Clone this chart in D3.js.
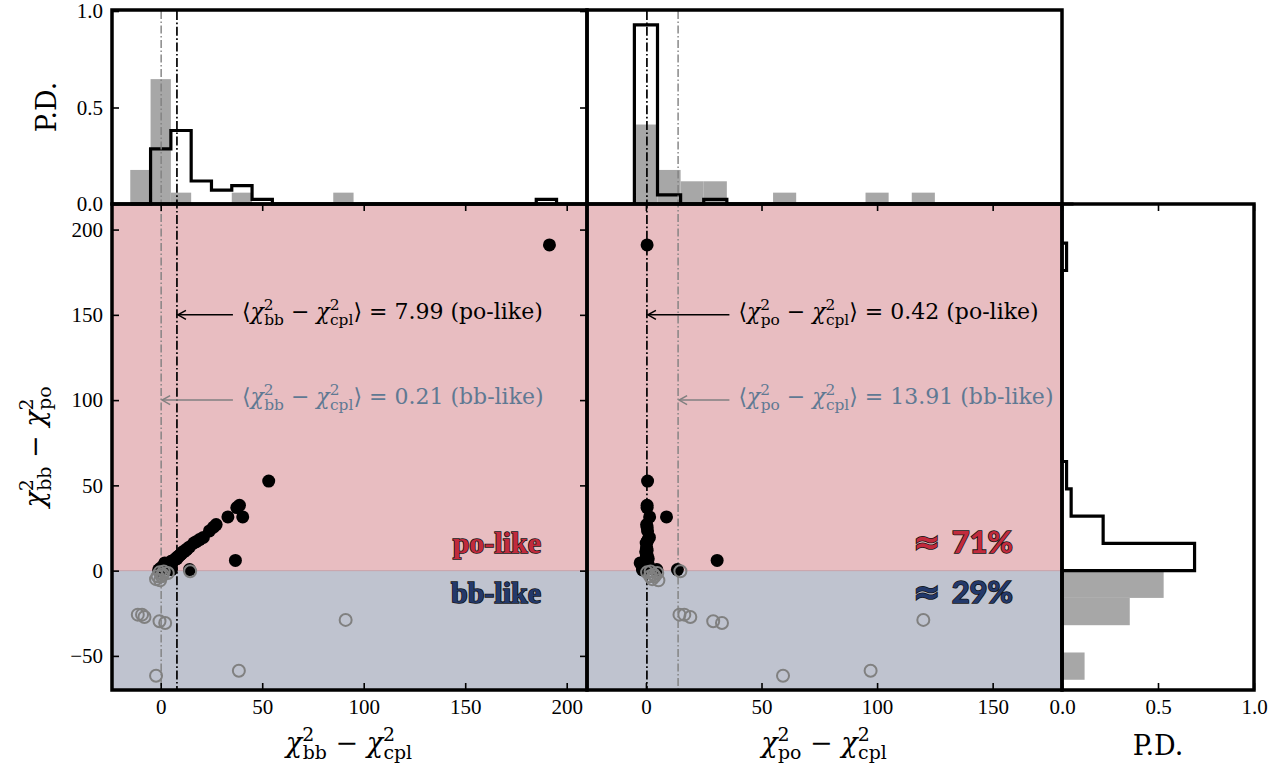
<!DOCTYPE html>
<html>
<head>
<meta charset="utf-8">
<script src="https://cdn.jsdelivr.net/npm/d3@7"></script>
<style>
  body { margin: 0; background: #fff; }
  svg { display: block; }
  .tick text { font-family: "Liberation Serif", serif; font-size: 21px; fill: #000; }
</style>
</head>
<body>
<div class="canvas"></div>
<script>
// po-like sample (filled black): chi2_bb - chi2_cpl, chi2_bb - chi2_po, chi2_po - chi2_cpl
const poLikeBB = [0.5, 1.0, 1.5, 2.0, 2.7, 3.0, 4.0, -1.0, 0.0, -0.5, 2.5, 4.5,
  5.1, 5.3, 6.0, 7.0, 7.5, 8.0, 8.4, 9.0, 9.5, 10.2, 10.9, 11.5, 12.5, 13.0, 14.2, 14.2,
  16.3, 17.5, 19.1, 21.0, 24.0, 26.0, 27.3, 33.1, 36.8, 37.5, 38.8, 40.4, 53.2, 191.5];
const poLikeDY = [0.8, 2.5, 1.0, 4.5, 3.0, 1.5, 4.2, 0.5, 1.5, 0.3, 2.0, 3.5,
  5.5, 0.6, 5.8, 6.5, 7.2, 7.0, 8.2, 8.5, 9.2, 9.8, 11.0, 11.2, 12.0, 12.8, 13.9, 0.6,
  16.2, 17.0, 18.2, 19.5, 23.3, 25.5, 27.0, 31.5, 6.0, 37.0, 38.3, 31.5, 52.5, 191.0];
const poLikePO = [-0.3, -1.5, 0.5, -2.5, -0.3, 1.5, -0.2, -1.5, -1.5, -0.8, 0.5, 1.0,
  -0.4, 4.7, 0.2, 0.5, 0.3, 1.0, 0.2, 0.5, 0.3, 0.4, -0.1, 0.3, 0.5, 0.2, 0.3, 13.6,
  0.1, 0.5, 0.9, 1.5, 0.7, 0.5, 0.3, 1.6, 30.8, 0.5, 0.5, 8.9, 0.7, 0.5];

// bb-like sample (open grey)
const bbLikeBB = [-11.3, -9.2, -8.0, -2.3, 38.5, 91.1, -0.6, 2.2, 14.5,
  -0.3, -2.3, 1.0, 3.5, -0.5, 0.5, -1.5, 1.5];
const bbLikeDY = [-25.8, -25.8, -27.2, -61.6, -58.7, -28.9, -29.7, -30.7, -0.4,
  -5.7, -5.0, -2.3, -1.4, -1.0, -3.3, -3.3, -0.5];
const bbLikePO = [14.5, 16.6, 19.2, 59.3, 97.2, 120.0, 29.1, 32.9, 14.9,
  5.4, 2.7, 3.3, 4.9, 0.5, 3.8, 1.8, 2.0];

// histogram bin edges
const bbEdges = d3.range(-15, 205, 10);
const poEdges = d3.range(-5, 195, 10);
const dyEdges = d3.range(-64, 208, 16);

// reference values (medians) and labels
const medBB = { po: 7.99, bb: 0.21 };
const medPO = { po: 0.42, bb: 13.91 };
const fracLabels = ["71%", "29%"];

const xTicksL = [0, 50, 100, 150, 200];
const xTicksR = [0, 50, 100, 150];
const yTicks = [-50, 0, 50, 100, 150, 200];
const pdTicks = [0, 0.5, 1];

const svg = d3.select(".canvas").append("svg").attr("width", 1286).attr("height", 776);

// layout
const L = { x0: 112, x1: 587 }, R = { x0: 587, x1: 1062 }, HX = { x0: 1062, x1: 1254 };
const topY = { y0: 11, y1: 204 }, mainY = { y0: 204, y1: 690 };

// scales
const xL = d3.scaleLinear().domain([-24, 210]).range([L.x0, L.x1]);
const xR = d3.scaleLinear().domain([-25.5, 180]).range([R.x0, R.x1]);
const y = d3.scaleLinear().domain([-70, 215]).range([mainY.y1, mainY.y0]);
const yT = d3.scaleLinear().domain([0, 1]).range([topY.y1, topY.y0]);
const xH = d3.scaleLinear().domain([0, 1]).range([HX.x0, HX.x1]);

const pink = "#e8bdc1", blue = "#bfc3cf", grey = "#808080", greyBar = "#a7a7a7";
const annoGrey = "#5f7993";
const serif = "DejaVu Serif, serif";

// shaded regions
[L, R].forEach(P => {
  svg.append("rect").attr("x", P.x0).attr("y", y(215)).attr("width", P.x1 - P.x0)
    .attr("height", y(0) - y(215)).attr("fill", pink);
  svg.append("rect").attr("x", P.x0).attr("y", y(0)).attr("width", P.x1 - P.x0)
    .attr("height", y(-70) - y(0)).attr("fill", blue);
  svg.append("line").attr("x1", P.x0).attr("x2", P.x1).attr("y1", y(0)).attr("y2", y(0))
    .attr("stroke", "#c9a2a8").attr("stroke-width", 1);
});

// histograms
const hist = (vals, edges) => {
  const bins = d3.bin().domain([edges[0], edges[edges.length - 1]]).thresholds(edges)(vals);
  return bins.map(b => ({ x0: b.x0, x1: b.x1, p: b.length / vals.length }));
};

const stepPts = bins => {
  const pts = [[bins[0].x0, 0]];
  bins.forEach(b => { pts.push([b.x0, b.p]); pts.push([b.x1, b.p]); });
  pts.push([bins[bins.length - 1].x1, 0]);
  return pts;
};

// top-left: chi2_bb - chi2_cpl
const hBBbb = hist(bbLikeBB, bbEdges), hBBpo = hist(poLikeBB, bbEdges);
svg.append("g").selectAll("rect").data(hBBbb.filter(d => d.p > 0)).join("rect")
  .attr("x", d => xL(d.x0)).attr("width", d => xL(d.x1) - xL(d.x0))
  .attr("y", d => yT(d.p)).attr("height", d => yT(0) - yT(d.p)).attr("fill", greyBar);
svg.append("path").attr("d", d3.line().x(d => xL(d[0])).y(d => yT(d[1]))(stepPts(hBBpo)))
  .attr("fill", "none").attr("stroke", "#000").attr("stroke-width", 3.2);

// top-right: chi2_po - chi2_cpl
const hPObb = hist(bbLikePO, poEdges), hPOpo = hist(poLikePO, poEdges);
svg.append("g").selectAll("rect").data(hPObb.filter(d => d.p > 0)).join("rect")
  .attr("x", d => xR(d.x0)).attr("width", d => xR(d.x1) - xR(d.x0))
  .attr("y", d => yT(d.p)).attr("height", d => yT(0) - yT(d.p)).attr("fill", greyBar);
svg.append("path").attr("d", d3.line().x(d => xR(d[0])).y(d => yT(d[1]))(stepPts(hPOpo)))
  .attr("fill", "none").attr("stroke", "#000").attr("stroke-width", 3.2);

// right: chi2_bb - chi2_po (horizontal)
const hDYbb = hist(bbLikeDY, dyEdges), hDYpo = hist(poLikeDY, dyEdges);
svg.append("g").selectAll("rect").data(hDYbb.filter(d => d.p > 0)).join("rect")
  .attr("x", xH(0)).attr("width", d => xH(d.p) - xH(0))
  .attr("y", d => y(d.x1)).attr("height", d => y(d.x0) - y(d.x1)).attr("fill", greyBar);
svg.append("path").attr("d", d3.line().x(d => xH(d[1])).y(d => y(d[0]))(stepPts(hDYpo)))
  .attr("fill", "none").attr("stroke", "#000").attr("stroke-width", 3.2);

// vertical median lines through top histogram and main panel
const vline = (x, color, w, dash) => svg.append("line")
  .attr("x1", x).attr("x2", x).attr("y1", topY.y0).attr("y2", mainY.y1)
  .attr("stroke", color).attr("stroke-width", w).attr("stroke-dasharray", dash);
vline(xL(medBB.bb), grey, 1.4, "8,2.5,1.5,2.5");
vline(xL(medBB.po), "#000", 1.7, "9,2.5,1.7,2.5");
vline(xR(medPO.bb), grey, 1.4, "8,2.5,1.5,2.5");
vline(xR(medPO.po), "#000", 1.7, "9,2.5,1.7,2.5");

// scatter points
const scatter = (poX, bbX, sx) => {
  const g = svg.append("g");
  g.selectAll("circle.po").data(d3.range(poLikeDY.length)).join("circle").attr("class", "po")
    .attr("cx", i => sx(poX[i])).attr("cy", i => y(poLikeDY[i])).attr("r", 6.5).attr("fill", "#000");
  g.selectAll("circle.bb").data(d3.range(bbLikeDY.length)).join("circle").attr("class", "bb")
    .attr("cx", i => sx(bbX[i])).attr("cy", i => y(bbLikeDY[i])).attr("r", 6)
    .attr("fill", "none").attr("stroke", grey).attr("stroke-width", 2);
};
scatter(poLikeBB, bbLikeBB, xL);
scatter(poLikePO, bbLikePO, xR);

// math text helper: parts are plain strings or {chi: "sub"}
const mathText = (sel, parts, fs) => {
  let pending = 0;
  parts.forEach(p => {
    if (typeof p === "string") {
      sel.append("tspan").attr("dy", pending).text(p);
      pending = 0;
    } else {
      sel.append("tspan").attr("dy", pending).attr("font-style", "italic").text("χ");
      sel.append("tspan").attr("font-size", fs * 0.7).attr("dy", -fs * 0.42).text("2");
      sel.append("tspan").attr("font-size", fs * 0.7).attr("dx", -fs * 0.43)
        .attr("dy", fs * 0.42 + fs * 0.27).text(p.chi);
      pending = -fs * 0.27;
    }
  });
  return sel;
};

// annotations with arrows
const annotate = (sx, med, yv, txt, color, arrowColor) => {
  const tx = sx(40), ty = y(yv);
  const t = svg.append("text").attr("x", tx).attr("y", ty + 4)
    .attr("font-family", serif).attr("font-size", 22).attr("fill", color);
  mathText(t, txt, 22);
  const x2 = sx(med);
  svg.append("line").attr("x1", tx - 9).attr("x2", x2 + 1).attr("y1", ty).attr("y2", ty)
    .attr("stroke", arrowColor).attr("stroke-width", 1.5);
  svg.append("path").attr("d", `M${x2 + 9},${ty - 4.5}L${x2 + 1},${ty}L${x2 + 9},${ty + 4.5}`)
    .attr("fill", "none").attr("stroke", arrowColor).attr("stroke-width", 1.5);
};
annotate(xL, medBB.po, 150, ["⟨", { chi: "bb" }, " − ", { chi: "cpl" }, "⟩ = 7.99 (po-like)"], "#000", "#000");
annotate(xL, medBB.bb, 100, ["⟨", { chi: "bb" }, " − ", { chi: "cpl" }, "⟩ = 0.21 (bb-like)"], annoGrey, grey);
annotate(xR, medPO.po, 150, ["⟨", { chi: "po" }, " − ", { chi: "cpl" }, "⟩ = 0.42 (po-like)"], "#000", "#000");
annotate(xR, medPO.bb, 100, ["⟨", { chi: "po" }, " − ", { chi: "cpl" }, "⟩ = 13.91 (bb-like)"], annoGrey, grey);

// region labels
const regionLabel = (x, yy, txt, fill, font, fs, approx) => {
  const t = svg.append("text")
    .attr("x", x).attr("y", yy).attr("text-anchor", "end")
    .attr("font-family", font).attr("font-weight", "bold").attr("font-size", fs)
    .attr("fill", fill).attr("stroke", "#151515").attr("stroke-width", 1.6)
    .attr("paint-order", "stroke");
  if (approx) {
    t.append("tspan").attr("font-family", "DejaVu Sans, sans-serif").attr("font-size", fs * 1.05).text("≈ ");
    t.append("tspan").text(txt);
  } else t.text(txt);
};
regionLabel(541, 553, "po-like", "#c12a3c", "Liberation Serif, serif", 30, false);
regionLabel(541, 603, "bb-like", "#23396b", "Liberation Serif, serif", 30, false);
regionLabel(1013, 553, fracLabels[0], "#c12a3c", "Lato, sans-serif", 31, true);
regionLabel(1013, 603, fracLabels[1], "#23396b", "Lato, sans-serif", 31, true);

// axes (inward ticks)
const fmt = d3.format(".1f");
const axis = (gen, tx, ty, labels) => {
  const g = svg.append("g").attr("transform", `translate(${tx},${ty})`)
    .call(gen.tickSizeInner(-7).tickSizeOuter(0).tickPadding(labels ? 9 : 0));
  g.select(".domain").remove();
  g.selectAll(".tick line").attr("stroke", "#000").attr("stroke-width", 1.6);
  if (!labels) g.selectAll(".tick text").remove();
  return g;
};
// main left
axis(d3.axisLeft(y).tickValues(yTicks), L.x0, 0, true);
axis(d3.axisRight(y).tickValues(yTicks), L.x1, 0, false);
axis(d3.axisBottom(xL).tickValues(xTicksL), 0, mainY.y1, true);
axis(d3.axisTop(xL).tickValues(xTicksL), 0, mainY.y0, false);
// main right
axis(d3.axisBottom(xR).tickValues(xTicksR), 0, mainY.y1, true);
axis(d3.axisTop(xR).tickValues(xTicksR), 0, mainY.y0, false);
// top-left histogram
axis(d3.axisLeft(yT).tickValues(pdTicks).tickFormat(fmt), L.x0, 0, true);
axis(d3.axisRight(yT).tickValues(pdTicks), L.x1, 0, false);
// right histogram
axis(d3.axisBottom(xH).tickValues(pdTicks).tickFormat(fmt), 0, mainY.y1, true);
axis(d3.axisTop(xH).tickValues(pdTicks), 0, mainY.y0, false);

// frames
const frame = (x0, x1, y0, y1) => svg.append("rect").attr("x", x0).attr("y", y0)
  .attr("width", x1 - x0).attr("height", y1 - y0)
  .attr("fill", "none").attr("stroke", "#000").attr("stroke-width", 3.5);
frame(L.x0, L.x1, topY.y0 - 1, mainY.y0);
frame(R.x0, R.x1, topY.y0 - 1, mainY.y0);
frame(L.x0, L.x1, mainY.y0, mainY.y1);
frame(R.x0, R.x1, mainY.y0, mainY.y1);
frame(HX.x0, HX.x1, mainY.y0, mainY.y1);

// axis titles
const title = (tx, ty, rot, parts, fs) => {
  const t = svg.append("text").attr("transform", `translate(${tx},${ty}) rotate(${rot})`)
    .attr("text-anchor", "middle").attr("font-family", serif)
    .attr("font-size", fs).attr("fill", "#000");
  mathText(t, parts, fs);
};
title(349, 752, 0, [{ chi: "bb" }, " − ", { chi: "cpl" }], 27);
title(824, 752, 0, [{ chi: "po" }, " − ", { chi: "cpl" }], 27);
title(1158, 755, 0, ["P.D."], 27);
title(44, 447, -90, [{ chi: "bb" }, " − ", { chi: "po" }], 27);
title(56, 107, -90, ["P.D."], 27);
</script>
</body>
</html>
